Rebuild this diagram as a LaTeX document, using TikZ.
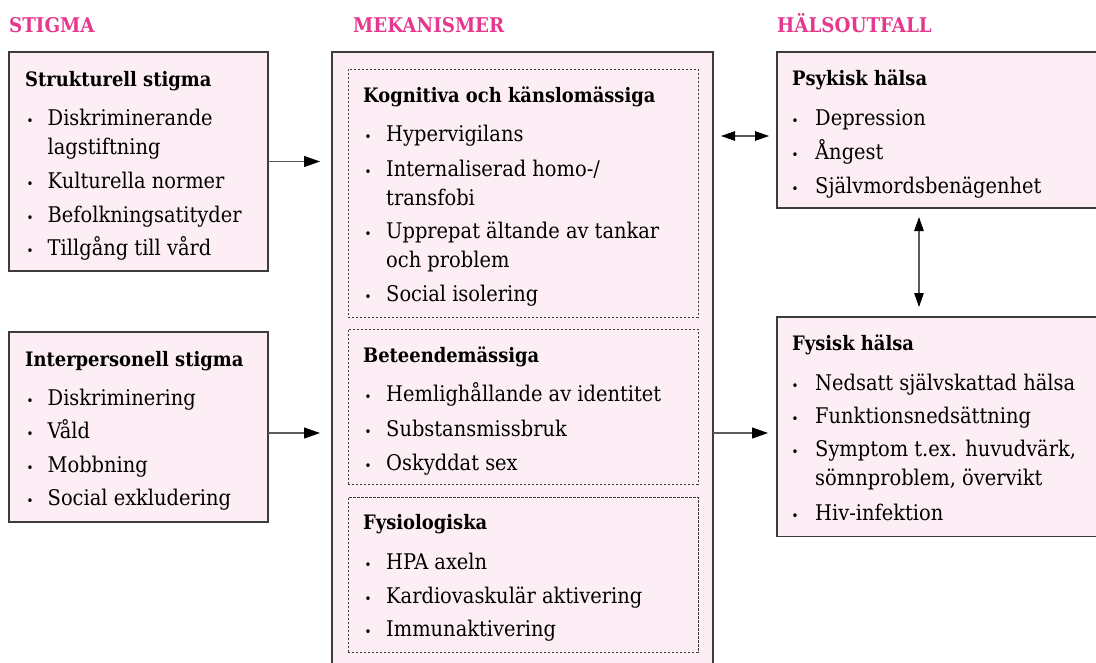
\documentclass[tikz,border=0pt]{standalone}
\usepackage{fontspec}
\setmainfont{DejaVu Serif Condensed}
\usetikzlibrary{arrows.meta,calc}
\definecolor{boxfill}{RGB}{252,238,244}
\definecolor{boxline}{RGB}{60,60,60}
\definecolor{arrline}{RGB}{90,90,90}
\definecolor{headpink}{RGB}{230,56,142}
\newcommand{\itemfont}{\fontsize{21.6}{29}\selectfont}
\newcommand{\headfont}{\fontsize{19.9}{24}\selectfont\bfseries}
\newcommand{\colfont}{\fontsize{20.3}{24}\selectfont\bfseries}
\newcommand{\bulfont}{\fontsize{13}{14}\selectfont}
\tikzset{
  box/.style={draw=boxline, fill=boxfill, line width=1.1pt, rectangle, anchor=north west, inner sep=0pt, outer sep=0pt},
  subbox/.style={draw=boxline, line width=0.8pt, dash pattern=on 2.2pt off 1.8pt, rectangle, anchor=north west, inner sep=0pt, outer sep=0pt},
  headtxt/.style={anchor=base west, inner sep=0pt, font=\headfont},
  itemtxt/.style={anchor=base west, inner sep=0pt, font=\itemfont, align=left},
  bul/.style={anchor=base, inner sep=0pt, font=\bulfont},
  coltxt/.style={anchor=base west, inner sep=0pt, font=\colfont, text=headpink},
  arr/.style={draw=arrline, line width=1.1pt, -{Triangle[length=16pt,width=11pt,black]}},
  dblarr/.style={draw=arrline, line width=1.1pt, {Triangle[length=14pt,width=9.5pt,black]}-{Triangle[length=14pt,width=9.5pt,black]}},
}
\begin{document}
\begin{tikzpicture}[x=1pt,y=-1pt]
\clip (0,0) rectangle (1096,662);
\useasboundingbox (0,0) rectangle (1096,662);
\fill[white] (0,0) rectangle (1096,662);

% column titles
\node[coltxt] (tstig) at (9,32) {STIGMA};
\node[coltxt] (tmek) at (353,32) {MEKANISMER};
\node[coltxt] (thal) at (777,32) {HÄLSOUTFALL};

% ---------- left: Strukturell stigma ----------
\node[box, minimum width=259pt, minimum height=219pt] (s1) at (9,52) {};
\node[headtxt] (s1h) at (25,86) {Strukturell stigma};
\node[bul] (s1b1) at (30,125) {•};
\node[itemtxt] (s1i1) at (47.5,154) {Diskriminerande\\lagstiftning};
\node[bul] (s1b2) at (30,188) {•};
\node[itemtxt] (s1i2) at (47.5,188) {Kulturella normer};
\node[bul] (s1b3) at (30,222) {•};
\node[itemtxt] (s1i3) at (47.5,222) {Befolkningsatityder};
\node[bul] (s1b4) at (30,255) {•};
\node[itemtxt] (s1i4) at (47.5,255) {Tillgång till vård};

% ---------- left: Interpersonell stigma ----------
\node[box, minimum width=259pt, minimum height=190pt] (s2) at (9,332) {};
\node[headtxt] (s2h) at (25,366) {Interpersonell stigma};
\node[bul] (s2b1) at (30,405) {•};
\node[itemtxt] (s2i1) at (47.5,405) {Diskriminering};
\node[bul] (s2b2) at (30,438) {•};
\node[itemtxt] (s2i2) at (47.5,438) {Våld};
\node[bul] (s2b3) at (30,472) {•};
\node[itemtxt] (s2i3) at (47.5,472) {Mobbning};
\node[bul] (s2b4) at (30,505.5) {•};
\node[itemtxt] (s2i4) at (47.5,505.5) {Social exkludering};

% ---------- middle: mechanisms ----------
\node[box, minimum width=381pt, minimum height=640pt] (mek) at (332,52) {};
\node[subbox, minimum width=350pt, minimum height=248pt] (m1) at (348,69) {};
\node[headtxt] (m1h) at (363,102.5) {Kognitiva och känslomässiga};
\node[bul] (m1b1) at (368,141.5) {•};
\node[itemtxt] (m1i1) at (386,141.5) {Hypervigilans};
\node[bul] (m1b2) at (368,176) {•};
\node[itemtxt] (m1i2) at (386,205) {Internaliserad homo-/\\transfobi};
\node[bul] (m1b3) at (368,238) {•};
\node[itemtxt] (m1i3) at (386,267) {Upprepat ältande av tankar\\och problem};
\node[bul] (m1b4) at (368,301.5) {•};
\node[itemtxt] (m1i4) at (386,301.5) {Social isolering};

\node[subbox, minimum width=350pt, minimum height=155pt] (m2) at (348,329) {};
\node[headtxt] (m2h) at (363,362.5) {Beteendemässiga};
\node[bul] (m2b1) at (368,401.5) {•};
\node[itemtxt] (m2i1) at (386,401.5) {Hemlighållande av identitet};
\node[bul] (m2b2) at (368,436) {•};
\node[itemtxt] (m2i2) at (386,436) {Substansmissbruk};
\node[bul] (m2b3) at (368,470) {•};
\node[itemtxt] (m2i3) at (386,470) {Oskyddat sex};

\node[subbox, minimum width=350pt, minimum height=155.5pt] (m3) at (348,497) {};
\node[headtxt] (m3h) at (363,529) {Fysiologiska};
\node[bul] (m3b1) at (368,569) {•};
\node[itemtxt] (m3i1) at (386,569) {HPA axeln};
\node[bul] (m3b2) at (368,603) {•};
\node[itemtxt] (m3i2) at (386,603) {Kardiovaskulär aktivering};
\node[bul] (m3b3) at (368,636.5) {•};
\node[itemtxt] (m3i3) at (386,636.5) {Immunaktivering};

% ---------- right: Psykisk hälsa ----------
\node[box, minimum width=340pt, minimum height=156pt] (p) at (777,52) {};
\node[headtxt] (ph) at (792,85) {Psykisk hälsa};
\node[bul] (pb1) at (795,125) {•};
\node[itemtxt] (pi1) at (815,125) {Depression};
\node[bul] (pb2) at (795,159) {•};
\node[itemtxt] (pi2) at (815,159) {Ångest};
\node[bul] (pb3) at (795,193) {•};
\node[itemtxt] (pi3) at (815,193) {Självmordsbenägenhet};

% ---------- right: Fysisk hälsa ----------
\node[box, minimum width=340pt, minimum height=219.5pt] (f) at (777,317) {};
\node[headtxt] (fh) at (792,350.5) {Fysisk hälsa};
\node[bul] (fb1) at (795,390) {•};
\node[itemtxt] (fi1) at (815,390) {Nedsatt självskattad hälsa};
\node[bul] (fb2) at (795,423) {•};
\node[itemtxt] (fi2) at (815,423) {Funktionsnedsättning};
\node[bul] (fb3) at (795,456.5) {•};
\node[itemtxt] (fi3) at (815,485.5) {Symptom t.ex. huvudvärk,\\sömnproblem, övervikt};
\node[bul] (fb4) at (795,520) {•};
\node[itemtxt] (fi4) at (815,520) {Hiv-infektion};

% ---------- connectors ----------
\coordinate (ylow) at (0,433);
\coordinate (ypsy) at (0,136);
\coordinate (xvert) at (919,0);
\draw[arr, shorten >=12pt] (s1.east) -- (mek.west |- s1.east);
\draw[arr, shorten >=12pt] (s2.east |- ylow) -- (mek.west |- ylow);
\draw[arr, shorten >=9pt] (mek.east |- ylow) -- (f.west |- ylow);
\draw[dblarr, shorten <=8pt, shorten >=8pt] (mek.east |- ypsy) -- (p.west |- ypsy);
\draw[dblarr, shorten <=9pt, shorten >=10pt] (p.south -| xvert) -- (f.north -| xvert);
\end{tikzpicture}
\end{document}
